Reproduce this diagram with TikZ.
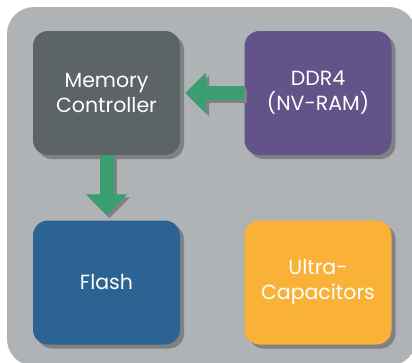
\documentclass[tikz,border=0pt]{standalone}
\usepackage{fontspec}
\setmainfont{Poppins}
\usetikzlibrary{arrows.meta}
\definecolor{bggray}{HTML}{B0B3B6}
\definecolor{shadowgray}{HTML}{7E8284}
\definecolor{mcgray}{HTML}{5D6466}
\definecolor{ddrpurple}{HTML}{625388}
\definecolor{flashblue}{HTML}{2B6393}
\definecolor{capyellow}{HTML}{F9B137}
\definecolor{arrowgreen}{HTML}{3A9E70}
\tikzset{
  block/.style={rounded corners=15pt, minimum width=147pt, minimum height=124pt,
    text=white, align=center, font=\fontsize{20.5}{25}\selectfont, inner sep=0pt},
  blockshadow/.style={fill=shadowgray, rounded corners=15pt},
  bigarrow/.style={line width=14pt, -{Triangle[width=40pt,length=21pt]}},
}
\begin{document}
\begin{tikzpicture}[x=1pt,y=-1pt]
\useasboundingbox (0,0) rectangle (412,362);
\fill[white] (0,0) rectangle (412,362);
\fill[bggray, rounded corners=27pt] (7,7) rectangle (416,366);
% shadows
\foreach \cx/\cy in {106.5/93, 318/93, 106.5/282.5, 318/282.5}
  \fill[blockshadow] (\cx-73.5+4,\cy-62+4) rectangle (\cx+73.5+4,\cy+62+4);
\node[block, fill=mcgray] (mc) at (106.5,93) {Memory\\Controller};
\node[block, fill=ddrpurple] (ddr) at (318,93) {DDR4\\(NV-RAM)};
\node[block, fill=flashblue] (flash) at (106.5,282.5) {Flash};
\node[block, fill=capyellow] (cap) at (318,282.5) {Ultra-\\Capacitors};
% arrow shadows
\draw[bigarrow, shadowgray, shorten >=5pt, transform canvas={xshift=3pt,yshift=-3pt}] (ddr.west) -- (mc.east);
\draw[bigarrow, shadowgray, shorten >=5pt, transform canvas={xshift=3pt,yshift=-3pt}] (mc.south) -- (flash.north);
% arrows
\draw[bigarrow, arrowgreen, shorten >=5pt] (ddr.west) -- (mc.east);
\draw[bigarrow, arrowgreen, shorten >=5pt] (mc.south) -- (flash.north);
\end{tikzpicture}
\end{document}
